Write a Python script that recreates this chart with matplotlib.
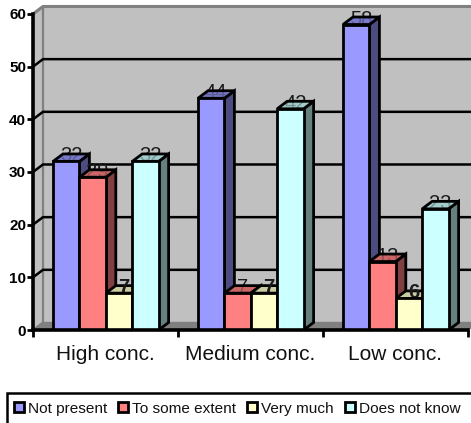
import matplotlib
matplotlib.use("Agg")
import matplotlib.pyplot as plt
from matplotlib.colors import to_rgba
from matplotlib.patches import Polygon, Rectangle

plt.rcParams['font.family'] = ['Liberation Sans', 'DejaVu Sans']

categories = ["High conc.", "Medium conc.", "Low conc."]
series_names = ["Not present", "To some extent", "Very much", "Does not know"]
not_present = [32, 44, 58]
to_some_extent = [29, 7, 13]
very_much = [7, 7, 6]
does_not_know = [32, 42, 23]
series_values = [not_present, to_some_extent, very_much, does_not_know]
y_ticks = [0, 10, 20, 30, 40, 50, 60]

front = ["#9999FF", "#FF8080", "#FFFFCC", "#CCFFFF"]
side = ["#4C4C80", "#804040", "#808066", "#668080"]
top = ["#7A7ACC", "#CC6666", "#CCCCA3", "#A3CCCC"]

W, H = 471, 423
fig = plt.figure(figsize=(W / 100, H / 100), dpi=100, facecolor="white")
ppx = 145.0
ppy = 5.267
ax = fig.add_axes([33 / W, (H - 330) / H, (W - 33) / W, 330 / H])
ax.set_xlim(0, (W - 33) / ppx)
ax.set_ylim(0, 330 / ppy)
ax.patch.set_visible(False)

dx = 10 / ppx
dy = 7.5 / ppy
bw = 26.4 / ppx
g0 = 20 / ppx
LW = 2.0
xmax = len(categories)
ymax = 60

# walls and floor
ax.add_patch(Rectangle((dx, dy), xmax + 1, ymax, fc="#C0C0C0", ec="none", zorder=1))
ax.add_patch(Polygon([(0, 0), (dx, dy), (dx, ymax + dy), (0, ymax)], fc="#C0C0C0", ec="#808080", lw=1.6, zorder=1))
ax.plot([0, dx, xmax + 1], [ymax, ymax + dy, ymax + dy], color="#808080", lw=2.2, zorder=1.2)
ax.add_patch(Polygon([(0, 0), (dx, dy), (xmax + dx, dy), (xmax, 0)], fc="#808080", ec="#808080", lw=1, zorder=1.1))
for t in y_ticks[1:-1]:
    ax.plot([0, dx, xmax + 1], [t, t + dy, t + dy], color="black", lw=1.8, zorder=1.5, solid_joinstyle="miter")

# bars
z = 2.0
for c in range(len(categories)):
    for s, vals in enumerate(series_values):
        v = vals[c]
        x0 = c + g0 + s * bw
        x1 = x0 + bw
        ax.add_patch(Polygon([(x1, 0), (x1 + dx, dy), (x1 + dx, v + dy), (x1, v)],
                             fc=side[s], ec="black", lw=LW, joinstyle="miter", zorder=z))
        face = [(x0, v), (x0 + dx, v + dy), (x1 + dx, v + dy), (x1, v)]
        ax.add_patch(Polygon(face, fc=top[s], ec="none", zorder=z + 0.1))
        emphasised = series_names[s] == "Very much"
        ax.text(x0 + bw / 2 + dx / 2, v, str(v), ha="center", va="baseline",
                fontsize=14.5, color="#1a1a1a", fontweight="bold" if emphasised else "normal",
                zorder=z + 0.35 if emphasised else z + 0.2)
        ax.add_patch(Polygon(face, fc=to_rgba(top[s], 0.7), ec="black", lw=LW,
                             joinstyle="miter", zorder=z + 0.3))
        ax.add_patch(Rectangle((x0, 0), bw, v, fc=front[s], ec="black", lw=LW,
                               joinstyle="miter", zorder=z + 0.4))
        z += 1

# axes
for sp in ("top", "right"):
    ax.spines[sp].set_visible(False)
ax.spines["left"].set_bounds(0, ymax)
ax.spines["bottom"].set_bounds(0, xmax)
for sp in ("left", "bottom"):
    ax.spines[sp].set_linewidth(2.6)
    ax.spines[sp].set_zorder(100)
ax.set_yticks(y_ticks)
ax.set_yticklabels([str(t) for t in y_ticks], fontsize=11, fontweight="bold")
ax.tick_params(axis="y", length=4, width=2, pad=1)
ax.set_xticks(range(xmax + 1))
ax.set_xticklabels([""] * (xmax + 1))
ax.set_xticks([c + 0.5 for c in range(xmax)], minor=True)
ax.set_xticklabels(categories, minor=True, fontsize=15, color="#111111")
ax.tick_params(axis="x", which="major", length=5, width=2)
ax.tick_params(axis="x", which="minor", length=0, pad=11)

# legend
def fx(p):
    return p / W
def fy(p):
    return (H - p) / H

fig.add_artist(Rectangle((fx(7), fy(433)), 480 / W, 40 / H, transform=fig.transFigure,
                         fc="white", ec="black", lw=1.8))
swatch_x = [14, 118, 247, 345]
for s, name in enumerate(series_names):
    fig.add_artist(Rectangle((fx(swatch_x[s]), fy(412)), 10 / W, 10 / H, transform=fig.transFigure,
                             fc=front[s], ec="black", lw=2.0))
    fig.text(fx(swatch_x[s] + 14), fy(413), name, fontsize=11.1, color="#111111", ha="left", va="baseline")

fig.savefig("out.png", dpi=100, facecolor="white")
